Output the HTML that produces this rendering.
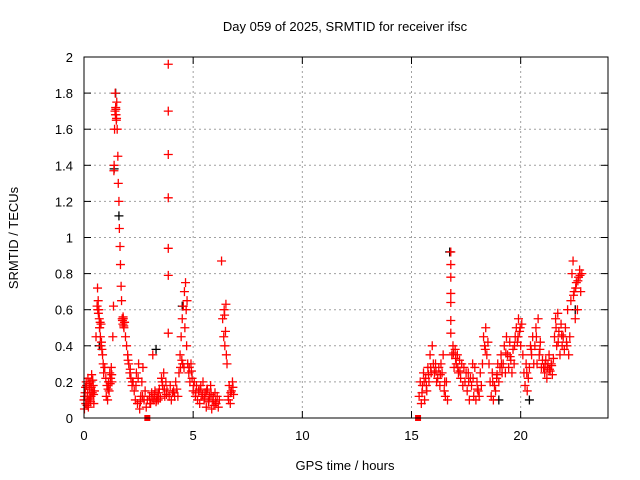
<!DOCTYPE html>
<html><head><meta charset="utf-8"><style>
body{margin:0;background:#fff}
svg{display:block;font-family:"Liberation Sans",sans-serif}
</style></head><body>
<svg id="chart" width="640" height="480">
<text x="345" y="31" font-size="13" text-anchor="middle">Day 059 of 2025, SRMTID for receiver ifsc</text>
<text x="345" y="470" font-size="13" text-anchor="middle">GPS time / hours</text>
<text x="18" y="238" font-size="13" text-anchor="middle" transform="rotate(-90 18 238)">SRMTID / TECUs</text>
<g id="grid"></g>
<g id="ticks"></g>
<g id="black"></g>
<g id="red"></g>
<rect x="84" y="57" width="524" height="361" fill="none" stroke="#000"/>
</svg>
<script>
const xTicks=[0,5,10,15,20];
const yTicks=[0,0.2,0.4,0.6,0.8,1,1.2,1.4,1.6,1.8,2];
const yTickLabels=["0","0.2","0.4","0.6","0.8","1","1.2","1.4","1.6","1.8","2"];
const redT=[0,0.05,0.08,0.12,0.15,0.18,0.22,0.25,0.28,0.32,0.35,0.38,0.42,0.45,0.48,0.02,0.10,0.20,0.30,0.40,
0.03,0.07,0.14,0.17,0.24,0.27,0.33,0.37,0.44,
0.55,0.6,0.62,0.65,0.68,0.7,0.72,0.75,0.78,0.8,0.82,0.85,0.88,0.9,0.95,1.0,
0.63,0.66,0.71,0.74,0.77,
1.02,1.05,1.08,1.12,1.15,1.18,1.22,1.25,1.28,1.1,1.2,1.27,
1.32,1.35,1.37,1.38,1.4,1.42,1.43,1.45,1.47,1.48,1.5,1.52,1.55,1.44,1.46,1.49,
1.57,1.6,1.62,1.65,1.67,1.7,1.72,1.75,1.78,1.8,1.83,1.86,1.9,1.95,1.76,1.79,1.82,1.85,
2.0,2.05,2.1,2.15,2.2,2.25,2.3,2.02,2.12,2.22,
2.35,2.4,2.45,2.5,2.55,2.6,2.65,2.7,2.75,2.8,2.38,2.48,2.58,2.68,
2.85,2.9,3.0,3.05,3.1,3.15,3.2,3.25,3.3,3.35,3.4,3.45,3.5,3.02,3.12,3.22,3.32,3.42,
3.55,3.6,3.65,3.7,3.75,3.8,3.58,3.68,3.78,
3.86,3.86,3.86,3.86,3.86,3.86,3.86,
3.9,3.95,4.0,4.1,4.2,4.3,4.35,4.05,4.15,4.25,
4.4,4.42,4.45,4.5,4.52,4.55,4.6,4.62,4.65,4.7,4.72,4.75,4.48,4.58,4.68,
4.8,4.85,4.9,4.95,5.0,5.05,5.1,5.15,5.2,4.82,4.92,5.02,5.12,
5.25,5.3,5.35,5.4,5.45,5.5,5.55,5.6,5.65,5.7,5.75,5.8,5.85,5.9,5.95,6.0,6.05,6.1,6.15,6.2,5.32,5.42,5.52,5.62,5.72,5.82,5.92,6.02,
6.3,6.35,6.4,6.42,6.45,6.5,6.52,6.55,6.44,6.48,
6.6,6.65,6.7,6.75,6.8,6.85,6.62,6.72,6.82,
15.35,15.4,15.45,15.5,15.55,15.6,15.65,15.7,15.75,15.8,15.85,15.9,15.95,16.0,15.48,15.58,15.68,15.78,15.88,
16.05,16.1,16.15,16.2,16.25,16.3,16.35,16.4,16.45,16.5,16.55,16.6,16.65,16.12,16.32,16.52,
16.8,16.8,16.8,16.8,16.8,16.8,16.8,
16.85,16.9,16.95,17.0,17.05,17.1,17.15,17.2,17.25,17.3,17.35,17.4,17.45,17.5,16.92,17.02,17.12,17.22,
17.55,17.6,17.65,17.7,17.75,17.8,17.85,17.9,17.95,18.0,18.05,18.1,18.15,18.2,17.62,17.82,18.02,
18.25,18.3,18.35,18.4,18.45,18.5,18.55,18.38,
18.6,18.65,18.7,18.75,18.8,18.85,18.9,18.95,19.0,19.05,19.1,19.15,18.72,18.92,19.12,
19.2,19.25,19.3,19.35,19.4,19.45,19.5,19.55,19.6,19.65,19.7,19.75,19.32,19.52,19.72,
19.8,19.85,19.9,19.95,20.0,20.05,20.1,19.88,19.98,
20.15,20.2,20.25,20.3,20.35,20.4,20.45,20.5,20.55,20.6,20.28,20.48,
20.65,20.7,20.75,20.8,20.85,20.9,20.95,21.0,20.72,20.88,
21.05,21.1,21.15,21.2,21.25,21.3,21.35,21.4,21.45,21.5,21.12,21.22,21.32,21.42,
21.55,21.6,21.65,21.7,21.75,21.8,21.85,21.9,21.95,22.0,21.62,21.72,21.88,
22.05,22.1,22.15,22.2,22.25,22.12,
22.3,22.35,22.4,22.45,22.5,22.55,22.6,22.65,22.7,22.75,22.8,22.42,22.52,22.62,22.72];
const redV=[0.10,0.14,0.08,0.18,0.12,0.22,0.10,0.16,0.20,0.12,0.24,0.14,0.18,0.08,0.15,0.05,0.20,0.06,0.09,0.21,
0.12,0.17,0.07,0.14,0.19,0.11,0.17,0.21,0.13,
.45,.62,.72,.65,.6,.55,.5,.45,.52,.42,.38,.35,.3,.25,.28,.22,
.6,.58,.5,.53,.4,
.12,.18,.1,.2,.15,.25,.22,.28,.2,.16,.19,.24,
.45,.62,1.37,1.4,1.6,1.7,1.8,1.72,1.68,1.65,1.75,1.6,1.45,1.68,1.71,1.66,
1.3,1.2,1.05,.95,.85,.73,.65,.55,.52,.55,.5,.53,.45,.4,.54,.56,.51,.53,
.35,.3,.25,.22,.18,.2,.15,.32,.27,.2,
.1,.25,.08,.3,.05,.12,.2,.28,.1,.15,.18,.22,.09,.12,
.06,.1,.12,.08,.14,.35,.1,.15,.09,.12,.1,.16,.11,.08,.11,.13,.1,.14,
.22,.18,.25,.12,.2,.15,.2,.16,.13,
1.96,1.7,1.46,1.22,.94,.79,.47,
.12,.18,.1,.15,.2,.12,.25,.14,.12,.16,
.35,.28,.45,.55,.3,.62,.7,.5,.75,.4,.65,.3,.32,.28,.6,
.25,.2,.3,.22,.15,.2,.12,.18,.1,.28,.26,.18,.14,
.15,.08,.18,.12,.2,.1,.14,.06,.16,.09,.12,.18,.05,.1,.07,.14,.08,.12,.06,.1,.16,.13,.11,.15,.1,.13,.12,.09,
.87,.55,.45,.6,.4,.63,.35,.3,.57,.48,
.12,.18,.08,.15,.2,.13,.1,.14,.17,
.12,.2,.08,.18,.25,.1,.22,.15,.28,.2,.35,.25,.4,.3,.14,.2,.18,.24,.28,
.25,.3,.2,.22,.28,.18,.3,.25,.35,.15,.12,.2,.1,.26,.24,.2,
.92,.85,.78,.69,.64,.54,.47,
.35,.4,.28,.38,.3,.35,.25,.32,.22,.3,.18,.28,.2,.25,.36,.33,.28,.26,
.15,.25,.1,.22,.18,.3,.12,.28,.1,.2,.15,.12,.25,.18,.2,.22,.16,
.3,.45,.4,.5,.35,.42,.3,.38,
.2,.12,.25,.1,.18,.15,.22,.3,.2,.28,.35,.25,.2,.24,.3,
.3,.4,.25,.45,.35,.28,.42,.32,.25,.38,.3,.45,.36,.34,.4,
.5,.42,.55,.48,.4,.52,.35,.45,.5,
.25,.18,.3,.15,.22,.28,.4,.35,.45,.3,.25,.38,
.4,.5,.3,.55,.35,.42,.28,.32,.45,.38,
.28,.25,.32,.22,.3,.35,.26,.3,.24,.33,.3,.28,.27,.29,
.45,.55,.4,.58,.48,.35,.52,.4,.45,.38,.5,.42,.46,
.5,.42,.6,.35,.45,.4,
.65,.8,.87,.7,.55,.75,.6,.78,.82,.7,.8,.68,.72,.76,.79];
const zeroT=[2.9,15.3];
const blackT=[1.38,1.45,0.7,3.3,16.75,20.4,4.5,1.6,22.5,19.0];
const blackV=[1.38,1.8,0.4,0.38,0.92,0.1,0.62,1.12,0.6,0.1];
const NS="http://www.w3.org/2000/svg";
const X0=84,X1=608,Y0=418,Y1=57,XMAX=24,YMAX=2;
function xs(t){return X0+t*(X1-X0)/XMAX;}
function ys(v){return Y0-v*(Y0-Y1)/YMAX;}
function mk(tag,a,p){const e=document.createElementNS(NS,tag);for(const k in a)e.setAttribute(k,a[k]);p.appendChild(e);return e;}
const grid=document.getElementById('grid'),ticks=document.getElementById('ticks');
xTicks.forEach(t=>{const x=xs(t);
 if(t>0){const g=mk('line',{x1:x,x2:x,y1:Y0,y2:Y1,stroke:'#a0a0a0','stroke-dasharray':'2,3'},grid);
 
 }
 mk('line',{x1:x,x2:x,y1:Y0,y2:Y0-7,stroke:'#000'},ticks);mk('line',{x1:x,x2:x,y1:Y1,y2:Y1+7,stroke:'#000'},ticks);
 const l=mk('text',{x:x,y:Y0+22,'font-size':13,'text-anchor':'middle'},ticks);l.textContent=t;
 
 });
yTicks.forEach((v,i)=>{const y=ys(v);
 if(v>0&&v<2){const g=mk('line',{x1:X0,x2:X1,y1:y,y2:y,stroke:'#a0a0a0','stroke-dasharray':'2,3'},grid);
 
 }
 mk('line',{x1:X0,x2:X0+7,y1:y,y2:y,stroke:'#000'},ticks);mk('line',{x1:X1,x2:X1-7,y1:y,y2:y,stroke:'#000'},ticks);
 const l=mk('text',{x:X0-11,y:y+5,'font-size':13,'text-anchor':'end'},ticks);l.textContent=yTickLabels[i];
 
 });
function plot(T,V,col,id){const g=document.getElementById(id);
 T.forEach((t,i)=>{const x=xs(t),y=ys(V[i]);
  const p=mk('path',{d:`M${x-4.5},${y}H${x+4.5}M${x},${y-4.5}V${y+4.5}`,stroke:col,'stroke-width':1.3,fill:'none'},g);
  
  });}
plot(blackT,blackV,'#000','black');
plot(redT,redV,'#f00','red');
const rg=document.getElementById('red');
zeroT.forEach(t=>{const r=mk('rect',{x:xs(t)-3,y:Y0-3,width:6,height:6,fill:'#f00'},rg);
 
 });
</script>
</body></html>
